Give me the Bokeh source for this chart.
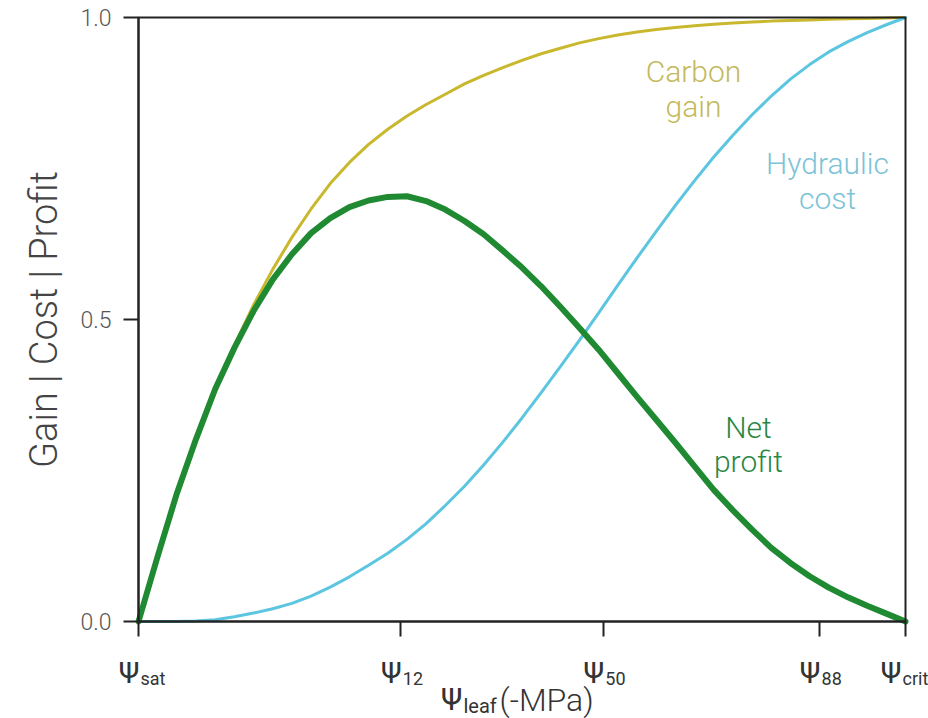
from bokeh.plotting import figure
from bokeh.models import Label, FixedTicker, Range1d, BoxAnnotation
from bokeh.embed import file_html
from bokeh.resources import INLINE

# Leaf water potential, normalised from saturation (0) to the critical point (1)
psi = [0.0, 0.025, 0.05, 0.075, 0.1, 0.125, 0.15, 0.175, 0.2, 0.225,
       0.25, 0.275, 0.3, 0.325, 0.35, 0.375, 0.4, 0.425, 0.45, 0.475,
       0.5, 0.525, 0.55, 0.575, 0.6, 0.625, 0.65, 0.675, 0.7, 0.725,
       0.75, 0.775, 0.8, 0.825, 0.85, 0.875, 0.9, 0.925, 0.95, 0.975, 1.0]

carbon_gain = [0.0, 0.108, 0.212, 0.302, 0.384, 0.457, 0.524, 0.583, 0.636,
               0.683, 0.725, 0.760, 0.790, 0.815, 0.837, 0.856, 0.873, 0.890,
               0.904, 0.917, 0.929, 0.940, 0.949, 0.958, 0.965, 0.971, 0.976,
               0.980, 0.9835, 0.9865, 0.989, 0.991, 0.9925, 0.994, 0.995,
               0.996, 0.997, 0.998, 0.9985, 0.9993, 1.0]

hydraulic_cost = [0.0, 0.0, 0.0, 0.001, 0.003, 0.008, 0.014, 0.021, 0.030,
                  0.042, 0.057, 0.074, 0.093, 0.113, 0.136, 0.162, 0.192,
                  0.224, 0.259, 0.297, 0.337, 0.379, 0.422, 0.466, 0.511,
                  0.557, 0.602, 0.646, 0.689, 0.730, 0.769, 0.805, 0.839,
                  0.870, 0.898, 0.922, 0.943, 0.960, 0.975, 0.988, 1.0]

net_profit = [0.0, 0.108, 0.212, 0.302, 0.385, 0.453, 0.514, 0.566, 0.608,
              0.643, 0.668, 0.686, 0.697, 0.703, 0.704, 0.696, 0.682, 0.663,
              0.641, 0.614, 0.586, 0.555, 0.521, 0.486, 0.450, 0.411, 0.372,
              0.334, 0.296, 0.257, 0.218, 0.184, 0.152, 0.122, 0.097, 0.075,
              0.056, 0.040, 0.026, 0.013, 0.0]

# Named points along the potential axis
x_ticks = [0.0, 0.342, 0.606, 0.888, 1.0]
x_tick_subs = ["sat", "12", "50", "88", "crit"]
y_ticks = [0.0, 0.5, 1.0]
y_tick_labels = ["0.0", "0.5", "1.0"]

GOLD = "#c9b82e"
BLUE = "#5cc5e0"
GREEN = "#1f8a32"
INK = "#333333"
FRAME = "#222222"
FONT = "Roboto"
THIN = "'Roboto Light', Roboto"

# page geometry: the data box [0, 1] x [0, 1] sits at these pixel margins,
# the drawing area covers the whole page so labels outside the box show
W, H = 928, 718
LEFT, RIGHT, TOP, BOTTOM = 138, 23, 17, 97
FW, FH = W - LEFT - RIGHT, H - TOP - BOTTOM

p = figure(width=W, height=H, output_backend="svg", toolbar_location=None,
           title=None,
           x_range=Range1d(-LEFT / FW, 1 + RIGHT / FW),
           y_range=Range1d(-BOTTOM / FH, 1 + TOP / FH),
           min_border_left=0, min_border_right=0,
           min_border_top=0, min_border_bottom=0)
p.background_fill_color = "white"
p.border_fill_color = "white"
p.outline_line_color = None
p.xgrid.visible = False
p.ygrid.visible = False

for ax in (p.xaxis, p.yaxis):
    ax.fixed_location = 0
    ax.bounds = (0, 1)
    ax.axis_line_color = FRAME
    ax.axis_line_width = 2
    ax.major_tick_line_color = FRAME
    ax.major_tick_line_width = 2
    ax.major_tick_in = 0
    ax.major_tick_out = 15
    ax.minor_tick_line_color = None

# bottom ticks; the Psi labels under them are placed separately
p.xaxis.ticker = FixedTicker(ticks=x_ticks)
p.xaxis.major_label_overrides = {t: " " for t in x_ticks}
p.xaxis.major_label_text_font_size = "1px"

p.yaxis.ticker = FixedTicker(ticks=y_ticks)
p.yaxis.major_label_overrides = dict(zip(y_ticks, y_tick_labels))
p.yaxis.major_label_text_font = THIN
p.yaxis.major_label_text_font_size = "23px"
p.yaxis.major_label_text_color = "#555555"
p.yaxis.major_label_standoff = 12
p.yaxis.axis_label = "Gain | Cost | Profit"
p.yaxis.axis_label_text_font = THIN
p.yaxis.axis_label_text_font_size = "38px"
p.yaxis.axis_label_text_font_style = "normal"
p.yaxis.axis_label_text_color = "#444444"
p.yaxis.axis_label_standoff = 11

# curves
p.line(psi, carbon_gain, line_color=GOLD, line_width=3, line_cap="round")
p.line(psi, hydraulic_cost, line_color=BLUE, line_width=3, line_cap="round")
p.line(psi, net_profit, line_color=GREEN, line_width=6, line_cap="round",
       line_join="round")

# box around the data area
p.add_layout(BoxAnnotation(left=0, right=1, bottom=0, top=1,
                           fill_alpha=0, line_color=FRAME, line_alpha=1,
                           line_width=2))


def dx(px):
    return (px - LEFT) / FW


def dy(py):
    return (TOP + FH - py) / FH


def caption(text, x, y, size, color, align="center", font=FONT):
    p.add_layout(Label(x=x, y=y, text=text, text_font=font,
                       text_font_size=f"{size}px", text_color=color,
                       text_align=align, text_baseline="alphabetic"))


caption("Carbon", dx(693), dy(71), 30, "#c4b95c", font=THIN)
caption("gain", dx(693), dy(106), 30, "#c4b95c", font=THIN)
caption("Hydraulic", dx(827), dy(163), 30, "#7cc3d8", font=THIN)
caption("cost", dx(827), dy(198), 30, "#7cc3d8", font=THIN)
caption("Net", dx(748), dy(427), 30, "#2a8743", font=THIN)
caption("profit", dx(748), dy(461), 30, "#2a8743", font=THIN)

# Psi tick labels with subscripts
for t, sub in zip(x_ticks, x_tick_subs):
    shift = -4 if sub == "crit" else 1
    caption("\u03a8", t + shift / FW, dy(672), 30, INK, align="right")
    caption(sub, t + (shift + 1) / FW, dy(678), 18, INK, align="left")

# x axis title
caption("\u03a8", dx(462), dy(699), 31, INK, align="right")
caption("leaf", dx(463), dy(705), 20, INK, align="left")
caption("(-MPa)", dx(499), dy(699), 32, INK, align="left", font=THIN)

open("out.html", "w").write(file_html(p, INLINE))
